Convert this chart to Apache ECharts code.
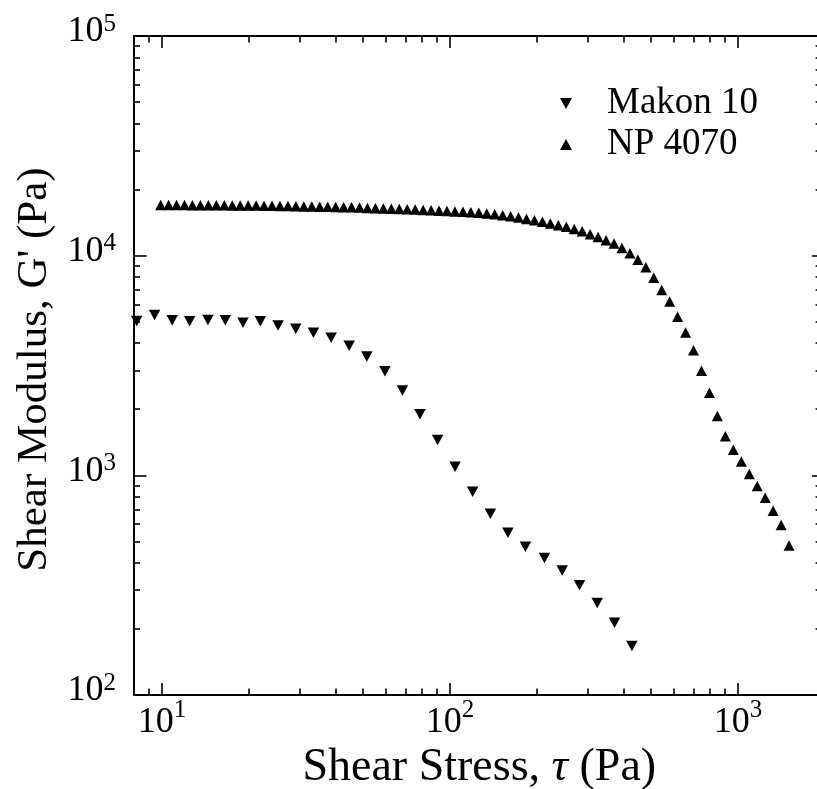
<!DOCTYPE html>
<html>
<head>
<meta charset="utf-8">
<script src="https://cdn.jsdelivr.net/npm/echarts@6/dist/echarts.min.js"></script>
<style>
  html, body { margin: 0; padding: 0; background: #ffffff; overflow: hidden; }
  /* the plot frame runs a few pixels past the right edge of the window */
  #chart { width: 830px; height: 789px; }
</style>
</head>
<body>
<div id="chart"></div>
<script>
// Makon 10: storage modulus G' against shear stress
const makonStress = [8.17, 9.43, 10.86, 12.48, 14.45, 16.60, 19.12, 21.97, 25.31, 29.16,
  33.58, 38.69, 44.69, 51.47, 59.47, 68.45, 78.70, 90.61, 104.2, 119.9,
  138.2, 159.0, 182.9, 212.9, 245.4, 281.8, 324.7, 372.9, 428.4];
const makonModulus = [5038, 5364, 5076, 5027, 5091, 5076, 4944, 5027, 4806, 4649,
  4453, 4226, 3886, 3475, 2976, 2434, 1899, 1447, 1095, 841,
  668, 548, 473, 420, 369, 316, 262, 213, 167];

// NP 4070: storage modulus G' against shear stress
const npStress = [9.90, 10.55, 11.24, 11.98, 12.76, 13.60, 14.50, 15.45, 16.47, 17.55,
  18.70, 19.93, 21.24, 22.63, 24.12, 25.70, 27.39, 29.19, 31.10, 33.15,
  35.32, 37.64, 40.12, 42.75, 45.56, 48.55, 51.73, 55.13, 58.75, 62.61,
  66.71, 71.09, 75.76, 80.74, 86.04, 91.68, 97.70, 104.1, 111.0, 118.2,
  126.0, 134.3, 143.1, 152.5, 162.5, 173.1, 184.5, 196.6, 209.6, 223.3,
  238.0, 253.6, 270.2, 288.0, 306.9, 327.0, 348.5, 371.3, 395.7, 421.7,
  449.4, 478.9, 510.3, 543.8, 579.5, 617.5, 658.1, 701.2, 747.4, 796.4,
  848.6, 904.3, 963.6, 1028, 1095, 1167, 1244, 1325, 1413, 1505];
const npModulus = [17016, 17007, 16998, 16989, 16980, 16971, 16963, 16955, 16946, 16937,
  16928, 16919, 16912, 16893, 16866, 16840, 16813, 16787, 16761, 16734,
  16708, 16682, 16656, 16630, 16597, 16550, 16501, 16455, 16408, 16360,
  16314, 16268, 16222, 16158, 16092, 16027, 15962, 15897, 15832, 15768,
  15692, 15542, 15431, 15277, 15113, 14917, 14701, 14503, 14252, 14007,
  13772, 13532, 13216, 12905, 12523, 12162, 11767, 11350, 10835, 10265,
  9590, 8859, 7935, 6969, 6178, 5276, 4467, 3711, 2995, 2376,
  1864, 1506, 1309, 1157, 1014, 894, 791, 690, 594, 479];

// Axis ranges and tick positions
const xRange = [8, 2000];
const yRange = [100, 100000];
const xMajorTicks = [10, 100, 1000];
const xMinorTicks = [9, 20, 30, 40, 50, 60, 70, 80, 90, 200, 300, 400, 500, 600, 700, 800, 900];
const yMajorTicks = [100, 1000, 10000, 100000];
const yMinorTicks = [200, 300, 400, 500, 600, 700, 800, 900,
  2000, 3000, 4000, 5000, 6000, 7000, 8000, 9000,
  20000, 30000, 40000, 50000, 60000, 70000, 80000, 90000];

const serif = '"Liberation Serif", "Times New Roman", Times, serif';
const black = '#000000';
const downTriangle = 'path://M0,0L12,0L6,11Z';

const powerLabel = function (v) {
  const e = Math.round(Math.log10(v));
  return '{b|10}{s|' + e + '}';
};
const xLabelRich = {
  b: { fontFamily: serif, fontSize: 36, color: black },
  s: { fontFamily: serif, fontSize: 25, color: black, padding: [0, 0, 24, 0] }
};
const yLabelRich = {
  b: { fontFamily: serif, fontSize: 36, color: black, padding: [0, 0, 8, 0] },
  s: { fontFamily: serif, fontSize: 25, color: black, padding: [0, 0, 24, 0] }
};

function logAxis(range, position, ticks, tickLen, extra) {
  return Object.assign({
    type: 'log',
    logBase: 10,
    position: position,
    min: range[0],
    max: range[1],
    axisLine: { show: true, onZero: false, lineStyle: { color: black, width: 2 } },
    axisTick: { show: true, inside: true, length: tickLen, customValues: ticks,
      lineStyle: { color: black, width: 1.6 } },
    axisLabel: { show: false },
    splitLine: { show: false },
    minorTick: { show: false },
    minorSplitLine: { show: false }
  }, extra || {});
}

const chart = echarts.init(document.getElementById('chart'), null, { renderer: 'canvas' });

chart.setOption({
  animation: false,
  backgroundColor: '#ffffff',
  grid: {
    left: 134, top: 36, width: 690.6, height: 659,
    containLabel: false, outerBoundsMode: 'none'
  },
  legend: {
    orient: 'vertical',
    left: 555,
    top: 78,
    itemWidth: 12,
    itemHeight: 11,
    itemGap: 0,
    selectedMode: false,
    textStyle: { fontFamily: serif, fontSize: 37, color: black, lineHeight: 41, padding: [0, 0, 0, 30] },
    data: [
      { name: 'Makon 10', icon: downTriangle, itemStyle: { color: black, opacity: 1 } },
      { name: 'NP 4070', icon: 'triangle', itemStyle: { color: black, opacity: 1 } }
    ]
  },
  xAxis: [
    logAxis(xRange, 'bottom', xMajorTicks, 12, {
      axisLabel: { show: true, customValues: xMajorTicks, formatter: powerLabel, rich: xLabelRich, margin: 3 },
      name: 'Shear Stress, {i|τ} (Pa)',
      nameLocation: 'middle',
      nameGap: 47,
      nameTextStyle: {
        fontFamily: serif, fontSize: 46, color: black,
        rich: {
          i: { fontFamily: serif, fontSize: 46, fontStyle: 'italic', color: black }
        }
      }
    }),
    logAxis(xRange, 'bottom', xMinorTicks, 6.5, { axisLine: { show: false } }),
    logAxis(xRange, 'top', xMajorTicks, 12),
    logAxis(xRange, 'top', xMinorTicks, 6.5, { axisLine: { show: false } })
  ],
  yAxis: [
    logAxis(yRange, 'left', yMajorTicks, 12.5, {
      axisLabel: { show: true, customValues: yMajorTicks, formatter: powerLabel, rich: yLabelRich, margin: 18 },
      name: "Shear Modulus, G' (Pa)",
      nameLocation: 'middle',
      nameGap: 76,
      nameRotate: 90,
      nameTextStyle: { fontFamily: serif, fontSize: 43, color: black, padding: [0, 8, 0, 0] }
    }),
    logAxis(yRange, 'left', yMinorTicks, 6, { axisLine: { show: false } }),
    // right frame: the spine itself lies just beyond the window edge
    logAxis(yRange, 'right', yMajorTicks, 12.5, { axisLine: { show: false } }),
    logAxis(yRange, 'right', yMinorTicks, 9, { axisLine: { show: false } })
  ],
  series: [
    {
      name: 'Makon 10',
      type: 'scatter',
      xAxisIndex: 0,
      yAxisIndex: 0,
      symbol: downTriangle,
      symbolSize: [11.5, 10.5],
      itemStyle: { color: black, opacity: 1 },
      silent: true,
      data: makonStress.map(function (x, i) { return [x, makonModulus[i]]; })
    },
    {
      name: 'NP 4070',
      type: 'scatter',
      xAxisIndex: 0,
      yAxisIndex: 0,
      symbol: 'triangle',
      symbolSize: [11, 10.5],
      itemStyle: { color: black, opacity: 1 },
      silent: true,
      data: npStress.map(function (x, i) { return [x, npModulus[i]]; })
    }
  ]
});
</script>
</body>
</html>
